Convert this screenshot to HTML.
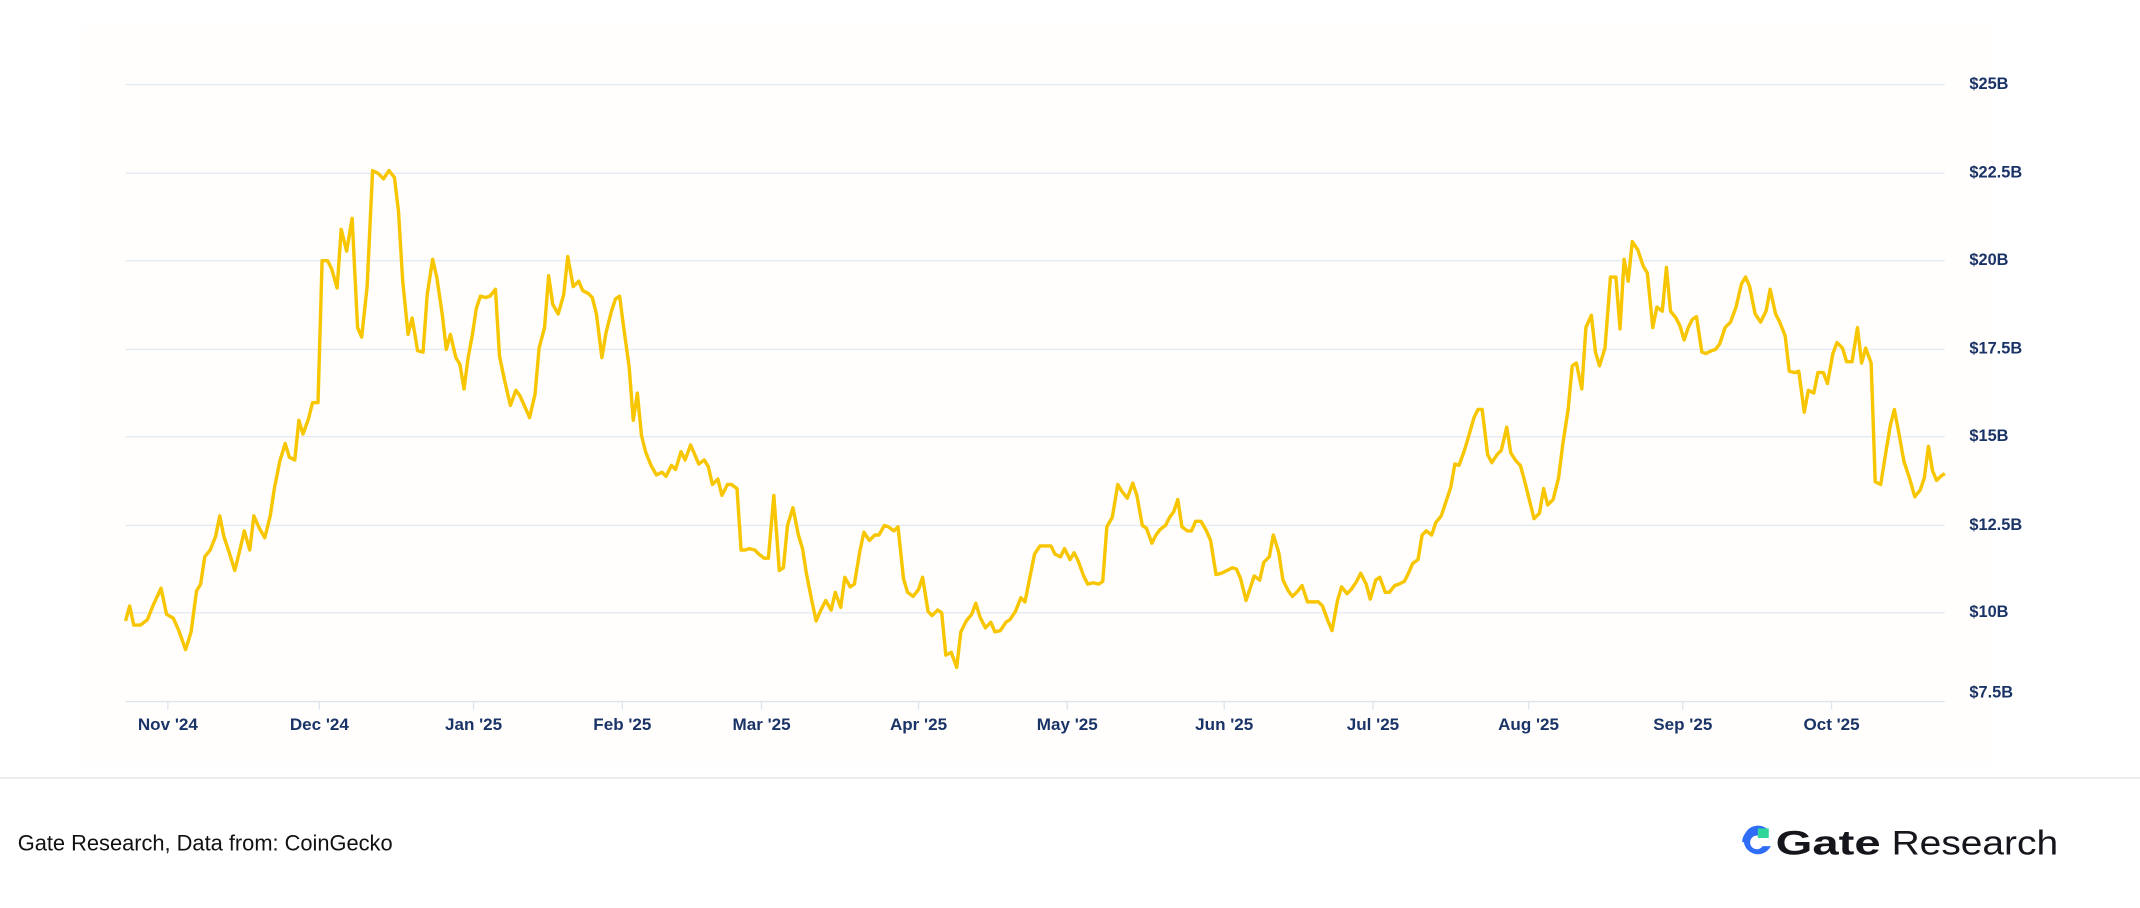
<!DOCTYPE html>
<html><head><meta charset="utf-8"><style>
html,body{margin:0;padding:0;background:#fff;}
svg{display:block;}
</style></head><body>
<svg width="2140" height="908" viewBox="0 0 1568 665.3" preserveAspectRatio="none" xmlns="http://www.w3.org/2000/svg">
<rect x="0" y="0" width="1568" height="665.3" fill="#fff"/>
<rect x="60" y="20" width="1400" height="540" fill="#fffefc"/>
<g stroke="#e4eaf4" stroke-width="1">
<line x1="92" y1="62" x2="1425" y2="62"/>
<line x1="92" y1="127" x2="1425" y2="127"/>
<line x1="92" y1="191" x2="1425" y2="191"/>
<line x1="92" y1="256" x2="1425" y2="256"/>
<line x1="92" y1="320" x2="1425" y2="320"/>
<line x1="92" y1="385" x2="1425" y2="385"/>
<line x1="92" y1="449" x2="1425" y2="449"/>
<line x1="92" y1="514" x2="1425" y2="514" stroke="#dde6ee"/>
</g>
<g stroke="#dde6ee" stroke-width="1">
<line x1="123" y1="514" x2="123" y2="520"/><line x1="234" y1="514" x2="234" y2="520"/><line x1="347" y1="514" x2="347" y2="520"/><line x1="456" y1="514" x2="456" y2="520"/><line x1="558" y1="514" x2="558" y2="520"/><line x1="673" y1="514" x2="673" y2="520"/><line x1="782" y1="514" x2="782" y2="520"/><line x1="897" y1="514" x2="897" y2="520"/><line x1="1006" y1="514" x2="1006" y2="520"/><line x1="1120" y1="514" x2="1120" y2="520"/><line x1="1233" y1="514" x2="1233" y2="520"/><line x1="1342" y1="514" x2="1342" y2="520"/>
</g>
<g font-family="Liberation Sans, sans-serif" font-weight="bold" font-size="12" fill="#1b3468">
<text x="1443" y="62" dominant-baseline="middle">$25B</text>
<text x="1443" y="127" dominant-baseline="middle">$22.5B</text>
<text x="1443" y="191" dominant-baseline="middle">$20B</text>
<text x="1443" y="256" dominant-baseline="middle">$17.5B</text>
<text x="1443" y="320" dominant-baseline="middle">$15B</text>
<text x="1443" y="385" dominant-baseline="middle">$12.5B</text>
<text x="1443" y="449" dominant-baseline="middle">$10B</text>
<text x="1443" y="508" dominant-baseline="middle">$7.5B</text>
</g>
<g font-family="Liberation Sans, sans-serif" font-size="12.5" fill="#1b3468" text-anchor="middle" font-weight="bold">
<text x="123" y="535">Nov '24</text><text x="234" y="535">Dec '24</text><text x="347" y="535">Jan '25</text><text x="456" y="535">Feb '25</text><text x="558" y="535">Mar '25</text><text x="673" y="535">Apr '25</text><text x="782" y="535">May '25</text><text x="897" y="535">Jun '25</text><text x="1006" y="535">Jul '25</text><text x="1120" y="535">Aug '25</text><text x="1233" y="535">Sep '25</text><text x="1342" y="535">Oct '25</text>
</g>
<polyline fill="none" stroke="#f7c600" stroke-width="2.5" stroke-linejoin="round" points="92,455 95,444 98,458 103,458 108,454 112,444 118,431 122,450 127,453 131,462 136,476 140,463 144,433 147,428 150,408 154,403 158,393 161,378 164,393 168,405 172,418 176,402 179,389 183,403 186,378 190,387 194,394 198,378 201,358 205,338 209,325 212,335 216,337 219,308 222,318 226,307 229,295 233,295 236,191 240,191 243,197 247,211 250,168 254,184 258,160 262,240 265,247 269,210 273,125 277,127 281,131 285,125 289,130 292,155 295,205 299,245 302,233 306,257 310,258 313,216 317,190 320,203 324,230 327,256 330,245 334,262 337,267 340,285 343,262 346,246 349,226 352,217 356,218 359,217 363,212 366,261 370,280 374,297 378,286 381,290 385,299 388,306 392,289 395,255 399,240 402,202 405,223 409,230 413,216 416,188 420,210 424,206 427,213 431,215 434,218 437,230 441,262 444,244 448,228 451,219 454,217 457,240 461,269 464,308 467,288 470,319 473,331 477,341 481,348 485,346 488,349 492,341 495,344 499,331 502,337 506,326 509,333 512,340 516,337 519,342 522,355 526,351 529,363 533,355 536,355 540,358 543,403 546,403 549,402 553,403 556,406 560,409 563,409 567,363 571,418 574,416 577,385 581,372 585,392 588,402 591,421 595,441 598,455 601,448 605,440 609,447 612,434 616,445 619,423 623,430 626,428 630,404 633,390 637,396 641,392 644,392 648,385 651,386 655,389 658,386 662,424 665,434 669,437 673,432 676,423 680,448 683,451 687,447 690,449 693,480 697,478 701,489 704,463 708,455 712,450 715,442 718,452 722,460 726,456 729,463 733,462 737,456 740,454 744,448 748,438 751,441 755,421 758,406 762,400 766,400 770,400 773,406 777,408 780,402 784,410 787,405 790,411 794,422 797,428 801,427 805,428 808,426 811,386 815,379 819,355 822,360 826,365 830,354 833,363 837,385 840,387 844,398 847,392 850,388 854,385 857,379 860,375 863,366 866,386 870,389 873,389 876,382 880,382 884,389 887,396 891,421 895,420 899,418 903,416 906,417 909,424 913,440 916,431 919,422 923,425 926,412 930,408 933,392 937,405 940,425 944,433 947,437 951,433 954,429 958,441 962,441 966,441 969,444 973,455 976,462 980,440 983,430 987,435 990,432 994,426 997,420 1001,428 1004,439 1008,425 1011,423 1015,434 1018,434 1022,429 1025,428 1029,426 1032,420 1035,413 1039,410 1042,392 1045,389 1049,392 1052,383 1056,378 1059,369 1063,357 1066,340 1069,341 1073,330 1076,320 1080,306 1083,300 1086,300 1090,333 1093,339 1097,333 1100,330 1104,313 1107,332 1111,338 1114,341 1117,352 1121,368 1124,380 1128,376 1131,358 1134,370 1138,366 1142,350 1145,326 1149,300 1152,268 1155,266 1159,285 1162,240 1166,231 1169,258 1172,268 1176,255 1180,203 1184,203 1187,241 1190,190 1193,206 1196,177 1200,183 1204,195 1207,200 1211,240 1214,225 1218,228 1221,196 1224,228 1228,233 1231,239 1234,249 1237,240 1240,234 1243,232 1247,258 1250,259 1254,257 1257,256 1260,252 1264,240 1268,236 1272,225 1276,208 1279,203 1282,210 1286,230 1290,236 1294,228 1297,212 1301,230 1304,236 1308,246 1311,272 1315,273 1318,272 1322,302 1325,286 1329,288 1332,273 1336,273 1339,281 1343,259 1346,251 1350,255 1353,265 1357,265 1361,240 1364,266 1367,255 1371,266 1374,353 1378,355 1382,330 1385,312 1388,300 1392,321 1395,338 1399,350 1403,364 1407,359 1410,350 1413,327 1416,345 1419,352 1422,349 1425,347"/>
<line x1="0" y1="570" x2="1568" y2="570" stroke="#e6e8ea" stroke-width="1.2"/>
<text x="13" y="623" font-family="Liberation Sans, sans-serif" font-size="16" fill="#111">Gate Research, Data from: CoinGecko</text>
<g transform="translate(1287,617)">
<path d="M 8.5 -9 A 10.5 10.5 0 1 0 10.5 3 L 4.5 3 A 5 5 0 1 1 3 -4 Z" fill="#2f6df6"/>
<path d="M 0 -10.5 A 10.5 10.5 0 0 0 -10.5 0 L -5 0 A 5 5 0 0 1 0 -5 Z" fill="#2f6df6"/>
<rect x="1" y="-10" width="8" height="7" fill="#2fd89a"/>
</g>
<text x="1301" y="626" font-family="Liberation Sans, sans-serif" font-weight="bold" font-size="25" fill="#15161c" textLength="77" lengthAdjust="spacingAndGlyphs">Gate</text>
<text x="1386" y="626" font-family="Liberation Sans, sans-serif" font-size="25" fill="#15161c" textLength="122" lengthAdjust="spacingAndGlyphs">Research</text>
</svg>
</body></html>
